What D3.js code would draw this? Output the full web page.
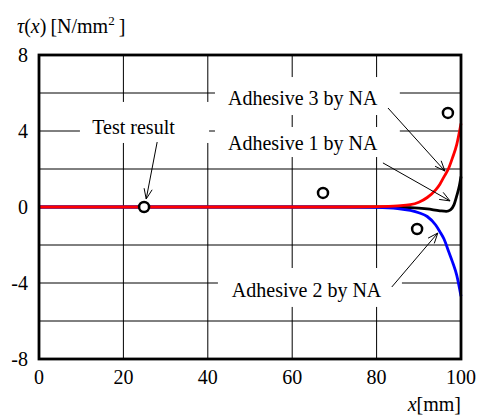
<!DOCTYPE html>
<html>
<head>
<meta charset="utf-8">
<script src="https://cdn.jsdelivr.net/npm/d3@7"></script>
<style>
  body { margin: 0; background: #fff; }
  svg { display: block; }
  text { font-family: 'Liberation Serif', 'DejaVu Serif', serif; }
</style>
</head>
<body>
<svg id="chart" width="480" height="416"></svg>
<script>
// tick labels and grid
const xTicks = [0, 20, 40, 60, 80, 100];
const yTicks = [-8, -4, 0, 4, 8];
const xGrid = [20, 40, 60, 80];
const yGrid = [-6, -4, -2, 2, 4, 6];

// curves (x in mm, tau in N/mm^2)
const adhesive3X = [0, 70, 80, 85, 88, 90, 92, 94, 95, 96, 97, 98, 99, 100];
const adhesive3Y = [0, 0, 0.02, 0.06, 0.12, 0.25, 0.5, 0.9, 1.2, 1.6, 2.0, 2.6, 3.3, 4.4];
const adhesive2X = [0, 70, 80, 85, 88, 90, 92, 94, 95, 96, 97, 98, 99, 100];
const adhesive2Y = [0, 0, -0.02, -0.08, -0.18, -0.3, -0.5, -0.95, -1.3, -1.7, -2.3, -2.9, -3.6, -4.7];
const adhesive1X = [0, 80, 88, 92, 95, 96.5, 97.5, 98.3, 99, 99.6, 100];
const adhesive1Y = [0, 0, -0.03, -0.1, -0.2, -0.23, -0.15, 0.1, 0.6, 1.1, 1.6];

// test result points
const testX = [24.9, 67.3, 89.6, 96.9];
const testY = [0, 0.74, -1.16, 4.95];

// annotations: label, text anchor, white box, arrow (all in data units)
const labels = ['Test result', 'Adhesive 3 by NA', 'Adhesive 1 by NA', 'Adhesive 2 by NA'];
const notes = [
    { text: labels[0], tx: 22.4, ty: 4.2, anchor: 'middle', box: [9.7, 40.3, 5.53, 3.37], from: [28.0, 3.42], to: [25.4, 0.42] },
    { text: labels[1], tx: 44.8, ty: 5.74, anchor: 'start', box: [41.7, 85.5, 6.84, 4.84], from: [82.7, 5.21], to: [96.2, 1.89] },
    { text: labels[2], tx: 44.8, ty: 3.37, anchor: 'start', box: [41.7, 85.5, 4.21, 2.63], from: [81.5, 2.32], to: [97.4, 0.32] },
    { text: labels[3], tx: 45.7, ty: -4.37, anchor: 'start', box: [42.4, 86.0, -3.21, -5.26], from: [83.6, -4.21], to: [94.5, -1.37] }
];

(function (d3) {
    const FONT = "'Liberation Serif', 'DejaVu Serif', serif";
    const svg = d3.select('#chart').attr('font-family', FONT);
    const left = 39, right = 461, top = 55, bottom = 359;

    const x = d3.scaleLinear().domain([0, 100]).range([left, right]);
    const y = d3.scaleLinear().domain([-8, 8]).range([bottom, top]);

    // grid
    const grid = svg.append('g').attr('stroke', '#000').attr('stroke-width', 1);
    grid.selectAll('line.v').data(xGrid).enter().append('line')
        .attr('x1', (d) => x(d)).attr('x2', (d) => x(d))
        .attr('y1', top).attr('y2', bottom);
    grid.selectAll('line.h').data(yGrid).enter().append('line')
        .attr('x1', left).attr('x2', right)
        .attr('y1', (d) => y(d)).attr('y2', (d) => y(d));

    // white boxes behind the labels
    svg.append('g').selectAll('rect').data(notes).enter().append('rect')
        .attr('x', (d) => x(d.box[0]))
        .attr('y', (d) => y(d.box[2]))
        .attr('width', (d) => x(d.box[1]) - x(d.box[0]))
        .attr('height', (d) => y(d.box[3]) - y(d.box[2]))
        .attr('fill', '#fff');

    // curves
    let line = d3.line().x((d) => x(d[0])).y((d) => y(d[1])).curve(d3.curveMonotoneX);
    let series = [
        { xs: adhesive1X, ys: adhesive1Y, color: '#000' },
        { xs: adhesive2X, ys: adhesive2Y, color: '#0000ff' },
        { xs: adhesive3X, ys: adhesive3Y, color: '#ff0000' }
    ];
    svg.append('g').selectAll('path').data(series).enter().append('path')
        .attr('d', (s) => line(s.xs.map((v, i) => [v, s.ys[i]])))
        .attr('fill', 'none')
        .attr('stroke', (s) => s.color)
        .attr('stroke-width', 2.8);

    // test points
    svg.append('g').selectAll('circle').data(testX).enter().append('circle')
        .attr('cx', (d) => x(d))
        .attr('cy', (d, i) => y(testY[i]))
        .attr('r', 5)
        .attr('fill', '#fff')
        .attr('stroke', '#000')
        .attr('stroke-width', 2.5);

    // annotation text
    svg.append('g').attr('font-size', 20).selectAll('text').data(notes).enter().append('text')
        .attr('font-family', FONT)
        .attr('x', (d) => x(d.tx))
        .attr('y', (d) => y(d.ty))
        .attr('dy', '0.33em')
        .attr('text-anchor', (d) => d.anchor)
        .text((d) => d.text);

    // arrows with open heads
    const arrows = svg.append('g').attr('stroke', '#000').attr('stroke-width', 1).attr('fill', 'none');
    notes.forEach(function (n) {
        let x1 = x(n.from[0]), y1 = y(n.from[1]);
        let x2 = x(n.to[0]), y2 = y(n.to[1]);
        arrows.append('line').attr('x1', x1).attr('y1', y1).attr('x2', x2).attr('y2', y2);
        let a = Math.atan2(y2 - y1, x2 - x1);
        let len = 11, spread = 0.38;
        let head = d3.path();
        head.moveTo(x2 - len * Math.cos(a - spread), y2 - len * Math.sin(a - spread));
        head.lineTo(x2, y2);
        head.lineTo(x2 - len * Math.cos(a + spread), y2 - len * Math.sin(a + spread));
        arrows.append('path').attr('d', head.toString());
    });

    // frame
    svg.append('rect')
        .attr('x', left).attr('y', top)
        .attr('width', right - left).attr('height', bottom - top)
        .attr('fill', 'none').attr('stroke', '#000').attr('stroke-width', 2.8);

    // tick labels
    svg.append('g').attr('font-size', 20).attr('text-anchor', 'middle')
        .selectAll('text').data(xTicks).enter().append('text')
        .attr('font-family', FONT)
        .attr('x', (d) => x(d)).attr('y', 384)
        .text((d) => d);
    svg.append('g').attr('font-size', 20).attr('text-anchor', 'end')
        .selectAll('text').data(yTicks).enter().append('text')
        .attr('font-family', FONT)
        .attr('x', 28).attr('y', (d) => y(d)).attr('dy', '0.33em')
        .text((d) => d);

    // axis titles
    let yTitle = svg.append('text').attr('font-family', FONT)
        .attr('x', 17).attr('y', 33).attr('font-size', 20);
    yTitle.append('tspan').attr('font-style', 'italic').text('τ');
    yTitle.append('tspan').text('(');
    yTitle.append('tspan').attr('font-style', 'italic').text('x');
    yTitle.append('tspan').text(')\u2009[N/mm');
    yTitle.append('tspan').attr('font-size', 13).attr('dy', -8).text('2');
    yTitle.append('tspan').attr('dy', 8).text('\u2009]');

    let xTitle = svg.append('text').attr('font-family', FONT)
        .attr('x', right).attr('y', 411).attr('font-size', 20).attr('text-anchor', 'end');
    xTitle.append('tspan').attr('font-style', 'italic').text('x');
    xTitle.append('tspan').text('[mm]');
})(d3);
</script>
</body>
</html>
